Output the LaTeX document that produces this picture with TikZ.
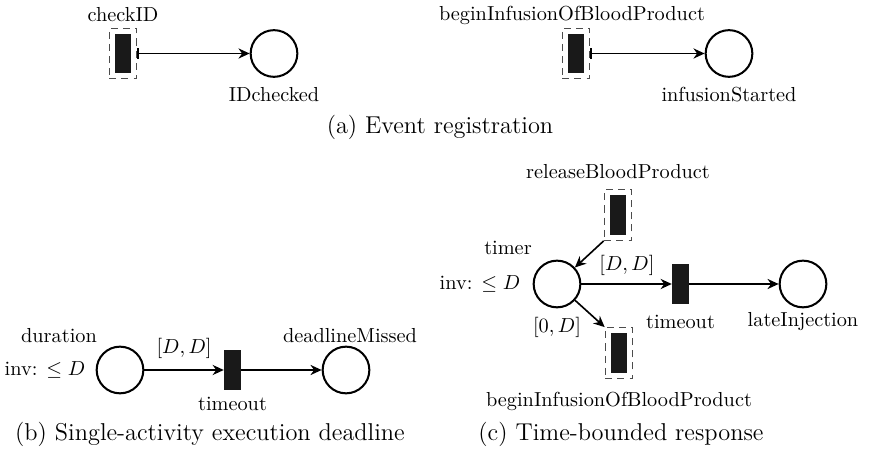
\documentclass[tikz,border=0pt]{standalone}
\usetikzlibrary{arrows.meta}
\begin{document}
\begin{tikzpicture}[x=0.4926pt,y=-0.4926pt,
  place/.style={circle,draw,line width=1pt,minimum size=23pt,inner sep=0pt},
  trans/.style={rectangle,fill=black!90,minimum width=8.2pt,minimum height=19.5pt,inner sep=0pt},
  evbox/.style={rectangle,draw=black!70,dash pattern=on 3.5pt off 2.5pt,line width=0.5pt,minimum width=13.6pt,minimum height=25pt,inner sep=0pt},
  arc/.style={-{Stealth[length=5.5pt,width=5pt]},line width=0.8pt},
  evarc/.style={{Bar[width=5pt,line width=0.8pt]}-{Stealth[length=5.5pt,width=5pt]},line width=0.8pt},
  lbl/.style={inner sep=0pt,font=\normalsize},
  captxt/.style={inner sep=0pt,font=\large}]
\useasboundingbox (0,0) rectangle (871,452);
% (a)
\node[trans] (ta) at (123,53.5) {};
\node[evbox] (tab) at (123,53.5) {};
\node[lbl] (tal) at (123,15) {checkID};
\node[place] (pa) at (274,53.5) {};
\node[lbl] (pal) at (274,95) {IDchecked};
\draw[evarc] (tab) -- (pa);
\node[trans] (tb) at (576,53.5) {};
\node[evbox] (tbb) at (576,53.5) {};
\node[lbl] (tbl) at (572,15) {beginInfusionOfBloodProduct};
\node[place] (pb) at (729,53.5) {};
\node[lbl] (pbl) at (729,95) {infusionStarted};
\draw[evarc] (tbb) -- (pb);
\node[captxt] (capa) at (440,127) {(a) Event registration};
% (b)
\node[place] (pd) at (120,370) {};
\node[lbl] (pdl) at (59,336) {duration};
\node[lbl] (pdi) at (45,370) {inv: $\leq D$};
\node[trans] (tt) at (232.5,370) {};
\node[lbl] (ttl) at (232.5,404) {timeout};
\node[place] (pm) at (346,370) {};
\node[lbl] (pml) at (350,336) {deadlineMissed};
\draw[arc] (pd) -- node[lbl,above=5pt] (ldd) {$[D,D]$} (tt);
\draw[arc] (tt) -- (pm);
\node[captxt] (capb) at (210,434) {(b) Single-activity execution deadline};
% (c)
\node[trans] (tr) at (618,215) {};
\node[evbox] (trb) at (618,215) {};
\node[lbl] (trl) at (618,172) {releaseBloodProduct};
\node[place] (pt) at (557,284) {};
\node[lbl] (ptl) at (508,248) {timer};
\node[lbl] (pti) at (480,284) {inv: $\leq D$};
\node[trans] (tto) at (680.5,284) {};
\node[lbl] (ttol) at (680.5,322) {timeout};
\node[place] (pl) at (803,284) {};
\node[lbl] (pll) at (803,322) {lateInjection};
\node[trans] (tbi) at (619,353) {};
\node[evbox] (tbib) at (619,353) {};
\node[lbl] (tbil) at (619,401) {beginInfusionOfBloodProduct};
\draw[arc] (trb.south west) -- (pt);
\draw[arc] (pt) -- (tto);
\node[lbl] (ldd2) at (627,265) {$[D,D]$};
\draw[arc] (tto) -- (pl);
\draw[arc] (pt) -- (tbib.north west);
\node[lbl] (l0d) at (557,327) {$[0,D]$};
\node[captxt] (capc) at (621,434) {(c) Time-bounded response};
\end{tikzpicture}
\end{document}
